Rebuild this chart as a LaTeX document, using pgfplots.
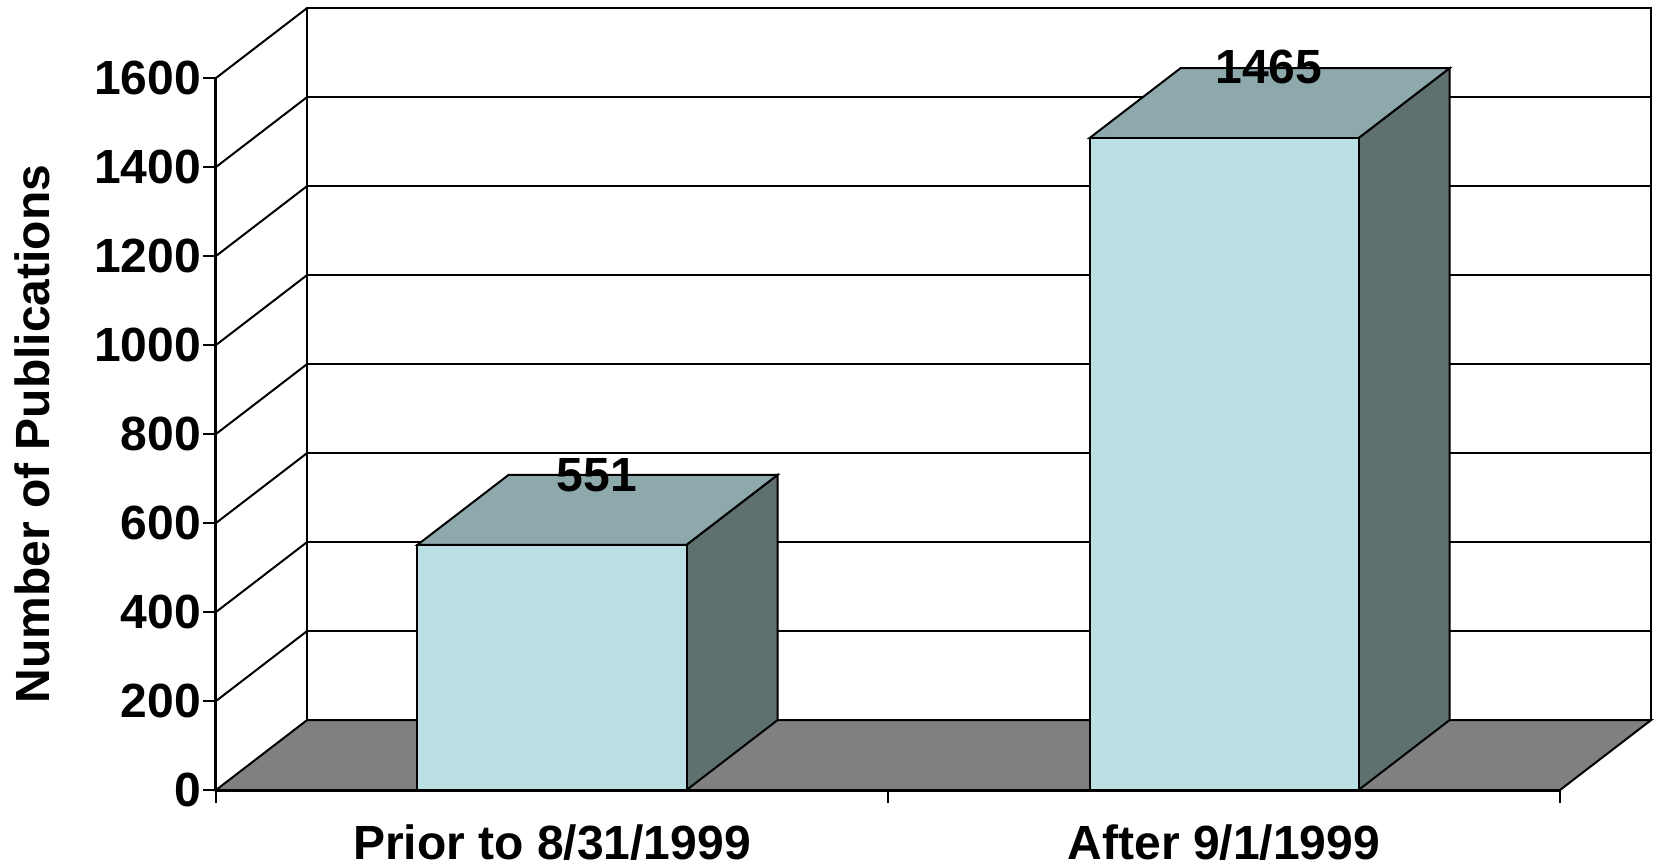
\documentclass[border=0pt]{standalone}
\usepackage{pgfplots}
\pgfplotsset{compat=1.18}
\usepackage{fontspec}
\setmainfont{Liberation Sans}
\definecolor{frontc}{HTML}{BBE0E3}
\definecolor{topc}{HTML}{8EA9AB}
\definecolor{sidec}{HTML}{5E7070}
\definecolor{floorc}{HTML}{808080}
\newcommand{\lblfont}{\fontsize{24}{28}\selectfont\bfseries}
\begin{document}
\begin{tikzpicture}
\begin{axis}[
  scale only axis, width=672pt, height=356pt,
  xmin=216, xmax=1560, ymin=0, ymax=1600,
  clip=false, axis on top,
  axis lines*=left, axis line style={-, line width=1.5pt, black},
  tick align=outside, major tick length=6.5pt, tick style={line width=1pt, black},
  ytick={0,200,...,1600},
  xtick={216,888,1560}, xticklabels={},
  extra x ticks={552,1224},
  extra x tick labels={Prior to 8/31/1999, After 9/1/1999},
  extra x tick style={major tick length=0pt, tick label style={yshift=-14pt}},
  /pgf/number format/assume math mode=true,
  /pgf/number format/set thousands separator={},
  ticklabel style={font=\lblfont},
  yticklabel style={xshift=2.5pt},
  ylabel={Number of Publications},
  every axis y label/.style={at={(axis description cs:-0.137,0.5)}, rotate=90, anchor=center, font=\lblfont},
]
% bounding box of the full picture
\path (axis cs:0,-168.5) rectangle (axis cs:1660,1775.3);
% back wall
\addplot[fill=white, draw=black, line width=1pt] coordinates {(307,157) (1651,157) (1651,1757) (307,1757)} -- cycle;
% back wall grid
\addplot[black, line width=1pt] coordinates {(307,357) (1651,357)};
\addplot[black, line width=1pt] coordinates {(307,557) (1651,557)};
\addplot[black, line width=1pt] coordinates {(307,757) (1651,757)};
\addplot[black, line width=1pt] coordinates {(307,957) (1651,957)};
\addplot[black, line width=1pt] coordinates {(307,1157) (1651,1157)};
\addplot[black, line width=1pt] coordinates {(307,1357) (1651,1357)};
\addplot[black, line width=1pt] coordinates {(307,1557) (1651,1557)};
% left wall diagonals
\addplot[black, line width=1pt] coordinates {(216,200) (307,357)};
\addplot[black, line width=1pt] coordinates {(216,400) (307,557)};
\addplot[black, line width=1pt] coordinates {(216,600) (307,757)};
\addplot[black, line width=1pt] coordinates {(216,800) (307,957)};
\addplot[black, line width=1pt] coordinates {(216,1000) (307,1157)};
\addplot[black, line width=1pt] coordinates {(216,1200) (307,1357)};
\addplot[black, line width=1pt] coordinates {(216,1400) (307,1557)};
\addplot[black, line width=1pt] coordinates {(216,1600) (307,1757)};
% floor
\addplot[fill=floorc, draw=black, line width=1pt] coordinates {(216,0) (307,157) (1651,157) (1560,0)} -- cycle;
% bar 1: 551
\addplot[fill=sidec, draw=black, line width=1pt] coordinates {(686.5,0) (777.5,157) (777.5,708) (686.5,551)} -- cycle;
\addplot[fill=topc, draw=black, line width=1pt] coordinates {(417.5,551) (508.5,708) (777.5,708) (686.5,551)} -- cycle;
\addplot[fill=frontc, draw=black, line width=1pt] coordinates {(417.5,0) (686.5,0) (686.5,551) (417.5,551)} -- cycle;
% bar 2: 1465
\addplot[fill=sidec, draw=black, line width=1pt] coordinates {(1358.5,0) (1449.5,157) (1449.5,1622) (1358.5,1465)} -- cycle;
\addplot[fill=topc, draw=black, line width=1pt] coordinates {(1089.5,1465) (1180.5,1622) (1449.5,1622) (1358.5,1465)} -- cycle;
\addplot[fill=frontc, draw=black, line width=1pt] coordinates {(1089.5,0) (1358.5,0) (1358.5,1465) (1089.5,1465)} -- cycle;
% value labels
\node[font=\lblfont, inner sep=0pt] at (axis cs:597,708) {551};
\node[font=\lblfont, inner sep=0pt] at (axis cs:1269,1624) {1465};
\end{axis}
\end{tikzpicture}
\end{document}
